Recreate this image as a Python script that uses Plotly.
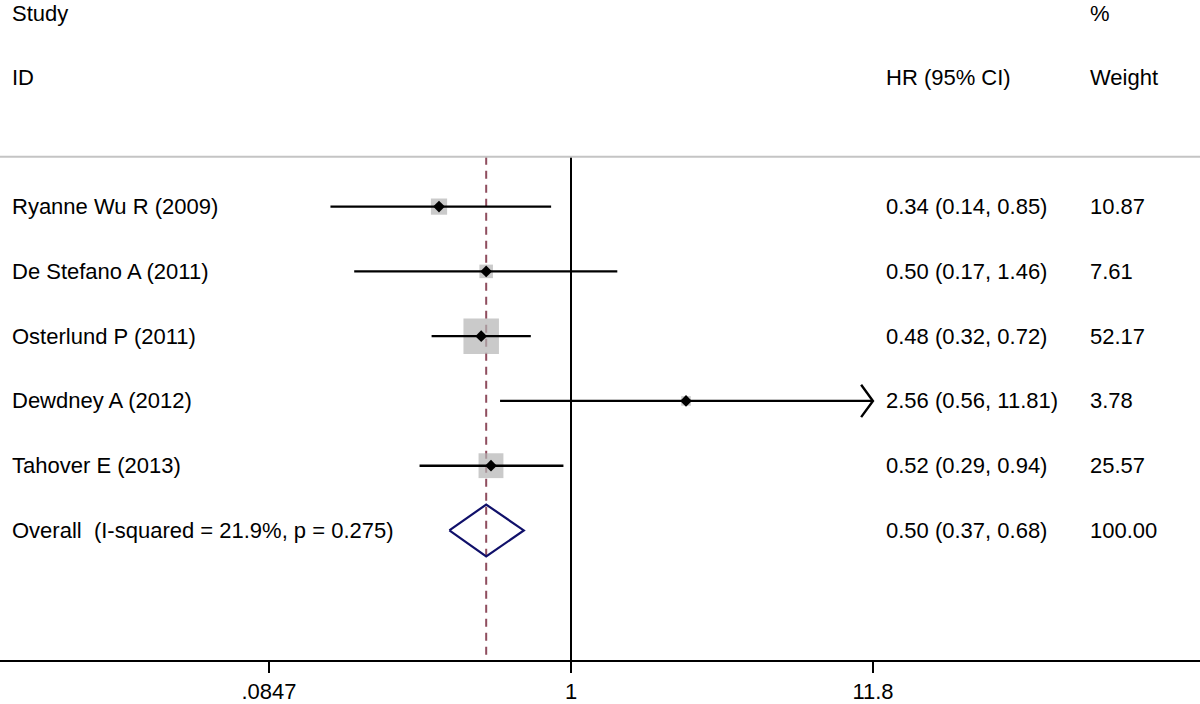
import numpy as np
import plotly.graph_objects as go

studies = ["Ryanne Wu R (2009)", "De Stefano A (2011)", "Osterlund P (2011)",
           "Dewdney A (2012)", "Tahover E (2013)"]
hr = [0.34, 0.50, 0.48, 2.56, 0.52]
lo = [0.14, 0.17, 0.32, 0.56, 0.29]
hi = [0.85, 1.46, 0.72, 11.81, 0.94]
weights = [10.87, 7.61, 52.17, 3.78, 25.57]
hr_text = ["0.34 (0.14, 0.85)", "0.50 (0.17, 1.46)", "0.48 (0.32, 0.72)",
           "2.56 (0.56, 11.81)", "0.52 (0.29, 0.94)"]
weight_text = ["10.87", "7.61", "52.17", "3.78", "25.57"]

overall_label = "Overall  (I-squared = 21.9%, p = 0.275)"
overall_hr, overall_lo, overall_hi = 0.50, 0.37, 0.68
overall_text = "0.50 (0.37, 0.68)"
overall_weight = "100.00"

tick_vals = [0.0847, 1, 11.8]
tick_text = [".0847", "1", "11.8"]
x_max = 11.8

FONT = "Liberation Sans, Arial, Helvetica, sans-serif"
FS = 22
BLACK = "#000000"

fig = go.Figure()

rows = list(range(len(studies)))
overall_row = len(studies)
header_top = -0.77
y_bottom = 7

# reference lines
fig.add_trace(go.Scatter(x=[1, 1], y=[header_top, y_bottom], mode="lines",
                         line=dict(color=BLACK, width=2), hoverinfo="skip", showlegend=False))
fig.add_trace(go.Scatter(x=[overall_hr, overall_hr], y=[header_top, y_bottom], mode="lines",
                         line=dict(color="#8f4d5e", width=2, dash="8px,6px"),
                         hoverinfo="skip", showlegend=False))

# squares (weight-proportional area)
sizes = [35.5 * np.sqrt(w / max(weights)) for w in weights]
fig.add_trace(go.Scatter(x=hr, y=rows, mode="markers",
                         marker=dict(symbol="square", size=sizes, color="#b3b3b3",
                                     line=dict(width=0)),
                         hoverinfo="skip", showlegend=False))

# CI lines
for i in rows:
    right = min(hi[i], x_max)
    fig.add_trace(go.Scatter(x=[lo[i], right], y=[i, i], mode="lines",
                             line=dict(color=BLACK, width=2.4), hoverinfo="skip", showlegend=False))
    if hi[i] > x_max:
        back = 10 ** (np.log10(x_max) - 0.042)
        fig.add_trace(go.Scatter(x=[back, x_max, back], y=[i - 0.25, i, i + 0.25], mode="lines",
                                 line=dict(color=BLACK, width=2.4), hoverinfo="skip",
                                 showlegend=False))

# point estimates
fig.add_trace(go.Scatter(x=hr, y=rows, mode="markers",
                         marker=dict(symbol="diamond", size=9, color=BLACK),
                         hoverinfo="skip", showlegend=False))

# overall diamond
fig.add_trace(go.Scatter(x=[overall_lo, overall_hr, overall_hi, overall_hr, overall_lo],
                         y=[overall_row, overall_row - 0.4, overall_row, overall_row + 0.4, overall_row],
                         mode="lines", line=dict(color="#10106a", width=2.2),
                         hoverinfo="skip", showlegend=False))

# header separator
fig.add_shape(type="line", xref="paper", yref="y", x0=0, x1=1, y0=header_top, y1=header_top,
              line=dict(color="#c4c4c4", width=2))

def txt(x_px, y, s):
    fig.add_annotation(x=x_px / 1200, y=y, xref="paper", yref="y", text=s, showarrow=False,
                       xanchor="left", yanchor="middle",
                       font=dict(family=FONT, size=FS, color=BLACK))

txt(10, -2.98, "Study")
txt(10, -2.0, "ID")
txt(1088, -2.98, "%")
txt(884, -2.0, "HR (95% CI)")
txt(1088, -2.0, "Weight")

for i in rows:
    txt(10, i, studies[i])
    txt(884, i, hr_text[i])
    txt(1088, i, weight_text[i])
txt(10, overall_row, overall_label)
txt(884, overall_row, overall_text)
txt(1088, overall_row, overall_weight)

px_per_dec = 302 / np.log10(11.8 / 0.0847) * 2
x_lo = -571 / px_per_dec
x_hi = (1200 - 571) / px_per_dec

fig.update_layout(
    width=1200, height=704,
    margin=dict(l=0, r=0, t=0, b=44),
    paper_bgcolor="white", plot_bgcolor="white",
    font=dict(family=FONT, size=FS, color=BLACK),
    xaxis=dict(type="log", range=[x_lo, x_hi], tickvals=tick_vals, ticktext=tick_text,
               ticks="outside", ticklen=11, tickwidth=2, tickcolor=BLACK,
               showline=True, linecolor=BLACK, linewidth=2, showgrid=False, zeroline=False,
               tickfont=dict(family=FONT, size=FS, color=BLACK)),
    yaxis=dict(range=[y_bottom, -3.19], visible=False, showgrid=False, zeroline=False),
)

fig.write_html("out.html", config={"displayModeBar": False},
               post_script="document.body.style.margin='0';document.body.style.overflow='hidden';")
